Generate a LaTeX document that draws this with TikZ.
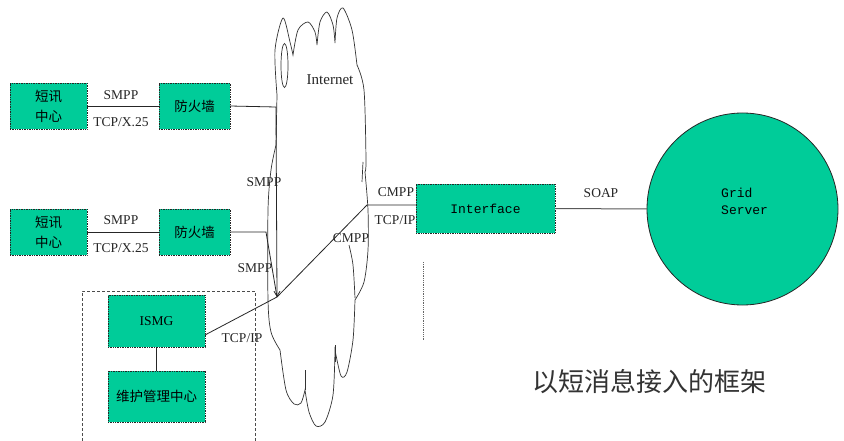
\documentclass[tikz,border=0pt]{standalone}
\usepackage{fontspec}
\setmainfont{Liberation Serif}
\setmonofont{Liberation Mono}
\newfontfamily\cjk{Noto Sans CJK SC}
\usetikzlibrary{arrows.meta,shapes.geometric}
\definecolor{boxgreen}{RGB}{0,204,153}
\tikzset{
  gbox/.style={draw=black!85, densely dotted, line width=0.7pt, fill=boxgreen, inner sep=0pt, outer sep=0pt, align=center, font=\cjk\fontsize{13.5}{20}\selectfont},
  conn/.style={draw=black!85, line width=0.8pt},
  lbl/.style={font=\fontsize{13.5}{15}\selectfont, inner sep=0pt, text=black!85},
  cloudline/.style={draw=black!80, line width=0.7pt},
}
\begin{document}
\begin{tikzpicture}[x=1pt, y=-1pt]
\useasboundingbox (0,0) rectangle (844,441);
\fill[white] (0,0) rectangle (844,441);

% cloud
\draw[cloudline]
 plot[smooth] coordinates {(277,95) (275,50) (283,18) (290,42) (293,55)}
 -- plot[smooth] coordinates {(293,55) (298,30) (308,22) (315,32) (317,45)}
 -- plot[smooth] coordinates {(317,45) (320,22) (327,12) (333,25) (335,43)}
 -- plot[smooth] coordinates {(335,43) (337,18) (343,8) (352,30) (357,65)}
 -- plot[smooth] coordinates {(357,65) (364,90) (366,160) (365,172)}
 -- plot[smooth] coordinates {(365,172) (368,210) (368,250) (364,282) (355,300)}
 -- plot[smooth] coordinates {(355,300) (353,340) (347,372) (341,376) (335,350)}
 -- plot[smooth] coordinates {(335,350) (333,395) (325,422) (316,426) (309,412) (305,390)}
 -- plot[smooth] coordinates {(305,390) (301,403) (294,404) (286,390) (280,350)}
 -- plot[smooth] coordinates {(280,350) (271,332) (268,300) (268,210) (271,170) (276,145)}
 -- plot[smooth] coordinates {(276,145) (277,95)};
\draw[cloudline] (284.5,65.5) ellipse [x radius=3.5, y radius=22];
\draw[cloudline] (305,370) -- (305,390);
\draw[cloudline] (335,345) -- (335,362);
\draw[cloudline] (362,182) -- (363,162);
\draw[cloudline] plot[smooth] coordinates {(349,245) (353,265) (355,298)};
\node[lbl, font=\fontsize{15}{17}\selectfont] (inet) at (330,80) {Internet};

% dashed group
\draw[black!70, line width=0.7pt, dash pattern=on 3pt off 2pt] (82,441) -- (82,291) -- (255,291) -- (255,441);
% dotted vertical
\draw[black!60, line width=0.8pt, densely dotted] (423,262) -- (423,340);

% boxes
\node[gbox, minimum width=77pt, minimum height=46pt] (c1) at (48.5,106) {短讯\\中心};
\node[gbox, minimum width=71pt, minimum height=46pt] (f1) at (194.5,106) {防火墙};
\node[gbox, minimum width=77pt, minimum height=46pt] (c2) at (48.5,232) {短讯\\中心};
\node[gbox, minimum width=71pt, minimum height=46pt] (f2) at (194.5,232) {防火墙};
\node[gbox, minimum width=97pt, minimum height=52pt, font=\fontsize{13.5}{15}\selectfont] (ismg) at (156.5,321) {ISMG};
\node[gbox, minimum width=97pt, minimum height=51pt] (mm) at (156.5,396.5) {维护管理中心};
\node[gbox, minimum width=139pt, minimum height=49pt, font=\ttfamily\fontsize{13}{15}\selectfont] (iface) at (485.5,208.5) {Interface};
\node[draw=black!85, line width=0.8pt, fill=boxgreen, ellipse, minimum width=191pt, minimum height=192pt, inner sep=0pt, outer sep=0pt] (grid) at (742.5,209) {};
\node[font=\ttfamily\fontsize{13}{17}\selectfont, align=left, anchor=west, inner sep=0pt] (gtxt) at (721,201) {Grid\\Server};

% coordinates
\coordinate (k1) at (276,107);
\coordinate (k2) at (266,232);
\coordinate (j) at (277,297);
\coordinate (k3) at (367,205);

% connectors
\draw[conn] (c1.east) -- (f1.west);
\draw[conn] (c2.east) -- (f2.west);
\draw[conn, -{Straight Barb[length=5pt, width=6pt]}] (f1.east) -- (k1) -- (j);
\draw[conn] (f2.east) -- (k2) -- (j);
\draw[conn] ([yshift=-14pt]ismg.east) -- (j) -- (k3) -- (iface.west |- k3);
\draw[conn] (ismg.south) -- (mm.north);
\draw[conn, draw=black!65, line width=1pt] (iface.east) -- (grid.west);

% labels
\node[lbl] (l1) at (121,95) {SMPP};
\node[lbl] (l2) at (121,122) {TCP/X.25};
\node[lbl] (l3) at (121,220) {SMPP};
\node[lbl] (l4) at (121,248) {TCP/X.25};
\node[lbl] (l5) at (264,182) {SMPP};
\node[lbl] (l6) at (255,268) {SMPP};
\node[lbl] (l7) at (242,338) {TCP/IP};
\node[lbl] (l8) at (351,238) {CMPP};
\node[lbl] (l9) at (396,192) {CMPP};
\node[lbl] (l10) at (395,220) {TCP/IP};
\node[lbl] (l11) at (601,193) {SOAP};

\node[font=\cjk\fontsize{26}{30}\selectfont, text=black!80, inner sep=0pt] (cap) at (649,382) {以短消息接入的框架};
\end{tikzpicture}
\end{document}
